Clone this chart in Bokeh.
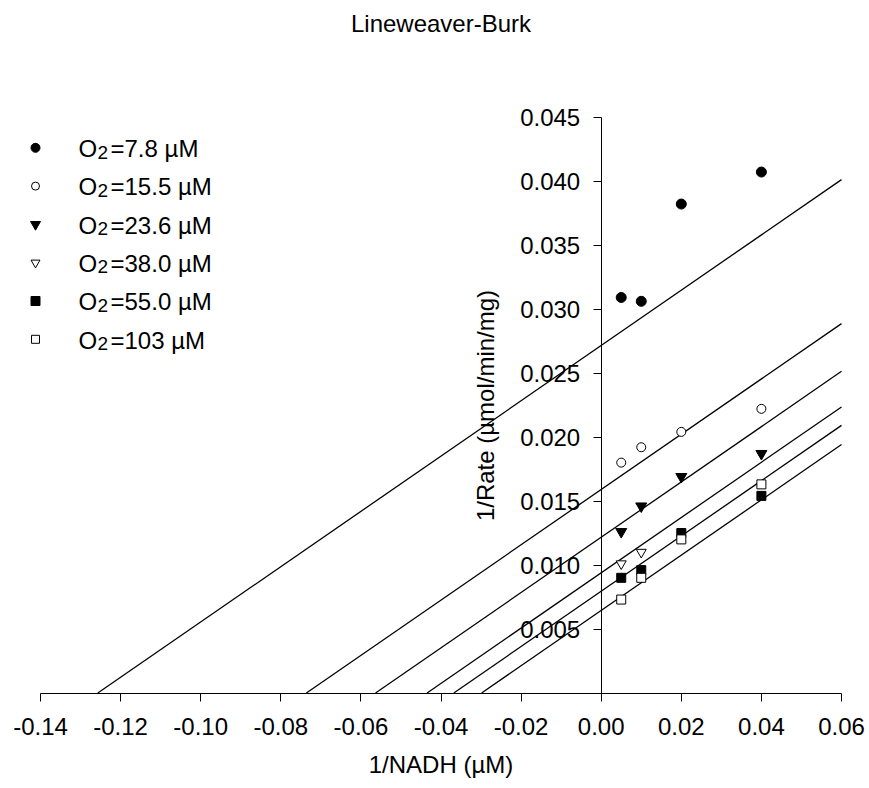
import numpy as np
from bokeh.plotting import figure
from bokeh.models import Range1d, LinearAxis, FixedTicker, PrintfTickFormatter, Label
from bokeh.core.properties import value
from bokeh.embed import file_html
from bokeh.resources import INLINE

# ---------------- data ----------------
nadh_inv = [0.005, 0.01, 0.02, 0.04]            # 1/NADH (µM)
o2_labels = ["7.8 µM", "15.5 µM", "23.6 µM", "38.0 µM", "55.0 µM", "103 µM"]

rate_o2_7_8 = [0.0309, 0.0306, 0.0382, 0.0407]
rate_o2_15_5 = [0.0180, 0.0192, 0.0204, 0.0222]
rate_o2_23_6 = [0.0126, 0.0146, 0.0169, 0.0187]
rate_o2_38_0 = [0.0101, 0.0110]                 # only two concentrations
rate_o2_55_0 = [0.0090, 0.0096, 0.0125, 0.0154]
rate_o2_103 = [0.0073, 0.0090, 0.0120, 0.0163]

fit_slopes = [0.216, 0.216, 0.216, 0.216, 0.216, 0.216]
fit_intercepts = [0.02715, 0.0159, 0.01217, 0.00939, 0.00795, 0.00645]

x_ticks = [-0.14, -0.12, -0.10, -0.08, -0.06, -0.04, -0.02, 0.0, 0.02, 0.04, 0.06]
y_ticks = [0.005, 0.010, 0.015, 0.020, 0.025, 0.030, 0.035, 0.040, 0.045]

# ---------------- layout ----------------
W, H = 869, 788
PX_X = 4005.0     # pixels per x unit
PX_Y = 12800.0    # pixels per y unit
X_LEFT = -0.14 - 40 / PX_X
Y_TOP = 692.5 / PX_Y
FONT = "Liberation Sans"
FS = "24px"


def sx(px):
    return X_LEFT + px / PX_X


def sy(py):
    return Y_TOP - py / PX_Y


p = figure(width=W, height=H,
           x_range=Range1d(X_LEFT, X_LEFT + W / PX_X),
           y_range=Range1d(Y_TOP - H / PX_Y, Y_TOP),
           x_axis_location=None, y_axis_location=None,
           output_backend="svg", toolbar_location=None, min_border=0)
p.outline_line_color = None
p.background_fill_color = "white"
p.border_fill_color = "white"
p.grid.visible = False
p.xgrid.grid_line_color = None
p.ygrid.grid_line_color = None

# axes crossing at the origin
xa = LinearAxis(fixed_location=0, bounds=(x_ticks[0], x_ticks[-1]))
xa.ticker = FixedTicker(ticks=x_ticks)
xa.formatter = PrintfTickFormatter(format="%.2f")
ya = LinearAxis(fixed_location=0, bounds=(0, y_ticks[-1]))
ya.ticker = FixedTicker(ticks=y_ticks)
ya.formatter = PrintfTickFormatter(format="%.3f")
for ax in (xa, ya):
    ax.minor_tick_line_color = None
    ax.major_tick_in = 0
    ax.major_tick_out = 8
    ax.axis_line_color = "black"
    ax.major_tick_line_color = "black"
    ax.major_label_text_font = FONT
    ax.major_label_text_font_size = FS
    ax.major_label_text_color = "black"
    ax.axis_label_text_font = FONT
    ax.axis_label_text_font_size = FS
    ax.axis_label_text_font_style = "normal"
    ax.axis_label_text_color = "black"
xa.axis_label = "1/NADH (µM)"
ya.axis_label = "1/Rate (µmol/min/mg)"
xa.major_label_standoff = 17
ya.major_label_standoff = 13
xa.axis_label_standoff = 12
ya.axis_label_standoff = 18
p.add_layout(xa, "below")
p.add_layout(ya, "left")

# fitted lines, from the x-intercept to the right end of the axis
x_end = x_ticks[-1]
for m, b in zip(fit_slopes, fit_intercepts):
    xs = [-b / m, x_end]
    ys = [m * x + b for x in xs]
    p.line(xs, ys, line_color="black", line_width=1.3)

series = [
    (nadh_inv, rate_o2_7_8, "circle", "black", 10),
    (nadh_inv, rate_o2_15_5, "circle", "white", 9),
    (nadh_inv, rate_o2_23_6, "inverted_triangle", "black", 11),
    (nadh_inv[:2], rate_o2_38_0, "inverted_triangle", "white", 10),
    (nadh_inv, rate_o2_55_0, "square", "black", 9),
    (nadh_inv, rate_o2_103, "square", "white", 9),
]
legend_sizes = [9, 8, 10, 9, 9, 8]
TXT_SHIFT = 8.5   # compensates the renderer's baseline offset
for i, (xs, ys, mk, fill, sz) in enumerate(series):
    p.scatter(xs, ys, marker=mk, size=sz, fill_color=fill,
              line_color="black", line_width=1)
    # legend entry
    row = 147.3 + 38.3 * i
    p.scatter([sx(35)], [sy(row)], marker=mk, size=legend_sizes[i],
              fill_color=fill, line_color="black", line_width=1)
    p.text([sx(78)], [sy(row + 9.3 - TXT_SHIFT)], text=["O"], text_font=value(FONT),
           text_font_size=FS, text_baseline="alphabetic", text_align="left",
           text_color="black")
    p.text([sx(97)], [sy(row + 12.7 - TXT_SHIFT)], text=["2"], text_font=value(FONT),
           text_font_size="19px", text_baseline="alphabetic", text_align="left",
           text_color="black")
    p.text([sx(110)], [sy(row + 9.3 - TXT_SHIFT)], text=["=" + o2_labels[i]],
           text_font=value(FONT), text_font_size=FS,
           text_baseline="alphabetic", text_align="left", text_color="black")

p.add_layout(Label(x=sx(440.5), y=sy(30.7 - 8), text="Lineweaver-Burk",
                   text_font=FONT, text_font_size=FS, text_align="center",
                   text_baseline="alphabetic", text_color="black"))

open("out.html", "w").write(file_html(p, INLINE))
